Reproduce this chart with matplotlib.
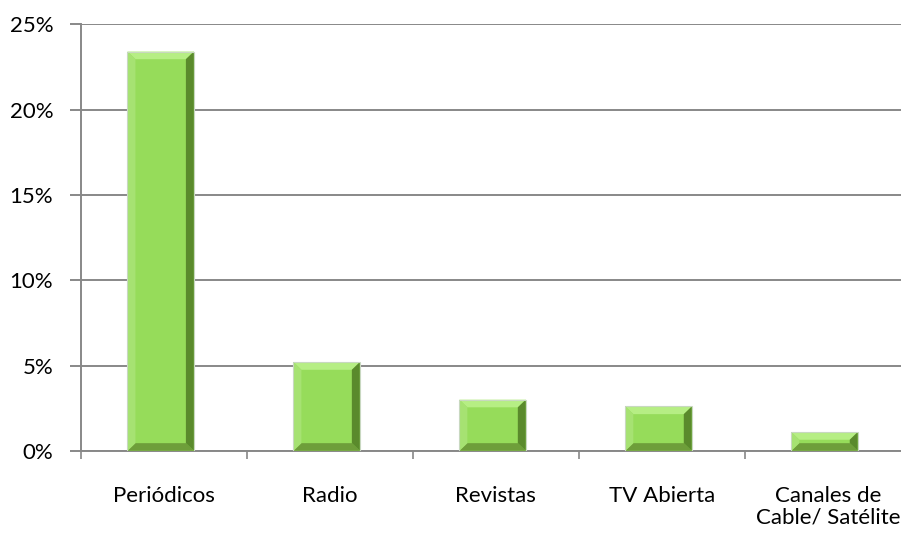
import matplotlib
matplotlib.use("Agg")
import matplotlib.pyplot as plt
import numpy as np
from matplotlib.patches import Polygon

categories = ["Periódicos", "Radio", "Revistas", "TV Abierta", "Canales de\nCable/ Satélite"]
values = [23.4, 5.2, 3.0, 2.6, 1.1]
yticks = [0, 5, 10, 15, 20, 25]
ytick_labels = ["0%", "5%", "10%", "15%", "20%", "25%"]

plt.rcParams['font.family'] = ['Lato', 'DejaVu Sans']

fig = plt.figure(figsize=(9.01, 5.38), dpi=100)
ax = fig.add_axes([0.0899, 0.162, 0.921, 0.793])

x = np.arange(len(categories))
bars = ax.bar(x - 0.02, values, width=0.4, color="#96DC5A", edgecolor="none", zorder=3)

ax.set_xlim(-0.5, len(categories) - 0.5)
ax.set_ylim(0, 25)

# bevel on each bar
bx, by = 0.048, 0.45
for b in bars:
    x0, y0, w, h = b.get_x(), b.get_y(), b.get_width(), b.get_height()
    x1, y1 = x0 + w, y0 + h
    dy = min(by, h / 2)
    top = [(x0, y1), (x1, y1), (x1 - bx, y1 - dy), (x0 + bx, y1 - dy)]
    bot = [(x0, y0), (x1, y0), (x1 - bx, y0 + dy), (x0 + bx, y0 + dy)]
    left = [(x0, y0), (x0, y1), (x0 + bx, y1 - dy), (x0 + bx, y0 + dy)]
    right = [(x1, y0), (x1, y1), (x1 - bx, y1 - dy), (x1 - bx, y0 + dy)]
    ax.add_patch(Polygon(top, closed=True, color="#B6EE84", lw=0, zorder=4))
    ax.add_patch(Polygon(bot, closed=True, color="#6E9E3A", lw=0, zorder=4))
    ax.add_patch(Polygon(left, closed=True, color="#A6E272", lw=0, zorder=4))
    ax.add_patch(Polygon(right, closed=True, color="#5A8A2C", lw=0, zorder=4))
    ax.add_patch(plt.Rectangle((x0, y0), w, h, fill=False, ec="#C8D8C0", lw=0.8, zorder=5))

ax.set_yticks(yticks)
ax.set_yticklabels(ytick_labels, fontsize=16)
ax.yaxis.grid(True, color="#888888", lw=1.4, zorder=0)
ax.tick_params(axis="y", length=8, width=1.4, color="#888888", pad=12)

ax.set_xticks(np.arange(-0.5, len(categories), 1.0))
ax.set_xticklabels([])
ax.set_xticks(x, minor=True)
ax.set_xticklabels(categories, minor=True, fontsize=16, va="top", linespacing=1.1)
ax.tick_params(axis="x", which="major", length=6, width=1.2, color="#888888")
ax.tick_params(axis="x", which="minor", length=0, pad=25)

for s in ["top", "right"]:
    ax.spines[s].set_visible(False)
ax.spines["left"].set_color("#888888")
ax.spines["left"].set_linewidth(1.4)
ax.spines["bottom"].set_color("#888888")
ax.spines["bottom"].set_linewidth(1.4)

fig.savefig("out.png", dpi=100)
